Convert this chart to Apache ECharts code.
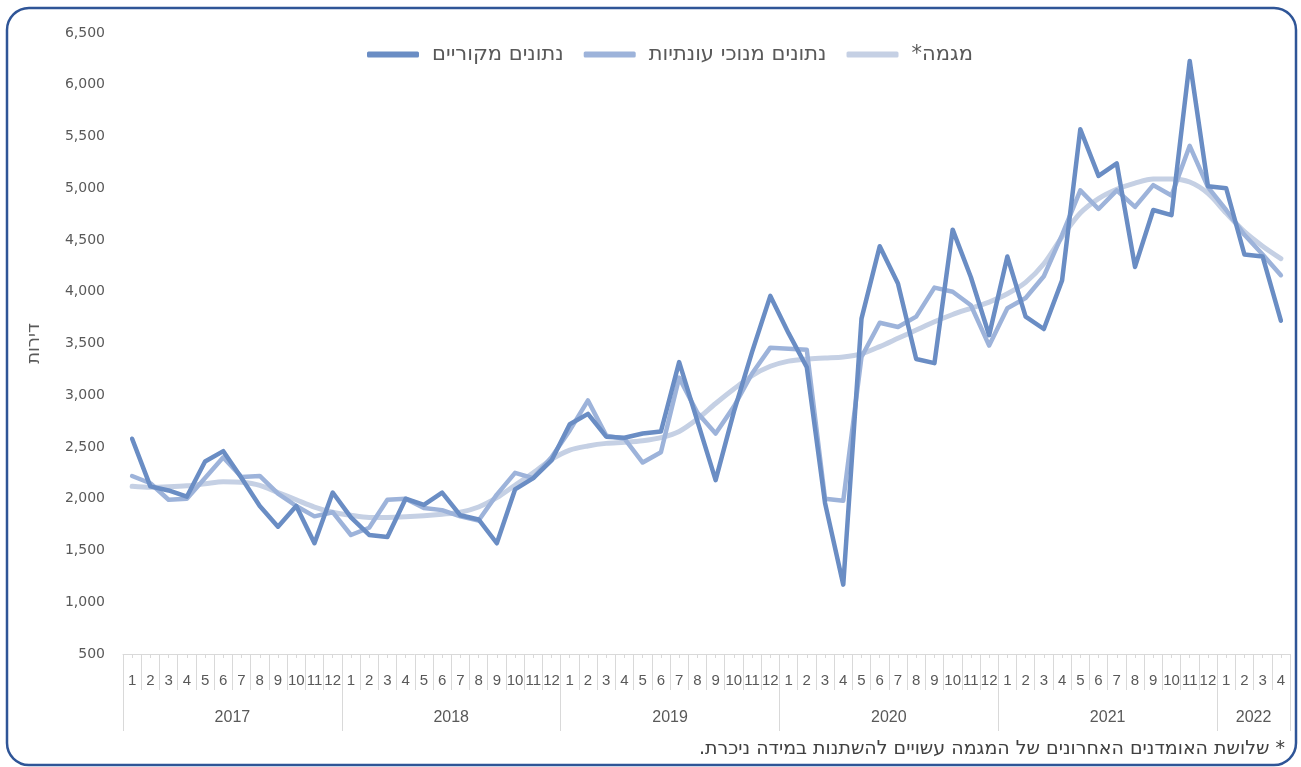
<!DOCTYPE html>
<html>
<head>
<meta charset="utf-8">
<script src="https://cdn.jsdelivr.net/npm/echarts@6/dist/echarts.min.js"></script>
<style>
html,body{margin:0;padding:0;background:#fff;}
#chart{width:1301px;height:767px;}
</style>
</head>
<body>
<div id="chart"></div>
<script>
// ---- data ----
const yearLabels = ['2017', '2018', '2019', '2020', '2021', '2022'];
const monthsPerYear = [12, 12, 12, 12, 12, 4];
const seriesNames = ['נתונים מקוריים', 'נתונים מנוכי עונתיות', 'מגמה*\u200F'];
const yAxisName = 'דירות';
const footnote = '\u200F* שלושת האומדנים האחרונים של המגמה עשויים להשתנות במידה ניכרת.\u200F';

const original = [
  2580, 2120, 2080, 2020, 2360, 2460, 2200, 1930, 1730, 1930, 1570, 2060,
  1820, 1650, 1630, 2000, 1940, 2060, 1840, 1800, 1570, 2090, 2200, 2370,
  2720, 2820, 2600, 2590, 2630, 2650, 3320, 2750, 2180, 2840, 3420, 3960,
  3600, 3270, 1960, 1170, 3740, 4440, 4080, 3350, 3310, 4600, 4140, 3580,
  4340, 3760, 3640, 4110, 5570, 5120, 5240, 4240, 4790, 4740, 6230, 5020,
  5000, 4360, 4340, 3720
];
const seasonallyAdjusted = [
  2220, 2150, 1990, 2000, 2200, 2400, 2210, 2220, 2050, 1930, 1830, 1870,
  1650, 1720, 1990, 2000, 1910, 1890, 1830, 1790, 2040, 2250, 2200, 2400,
  2660, 2950, 2610, 2580, 2350, 2450, 3170, 2830, 2630, 2890, 3210, 3460,
  3450, 3440, 2000, 1980, 3370, 3700, 3660, 3760, 4040, 4000, 3870, 3480,
  3840, 3940, 4150, 4550, 4980, 4800, 4980, 4820, 5030, 4930, 5410, 5010,
  4790, 4550, 4360, 4160
];
const trend = [
  2120, 2110, 2115, 2125, 2145, 2165, 2160, 2130, 2060, 1990, 1920, 1870,
  1840, 1820, 1820, 1825, 1835, 1850, 1870, 1920, 2010, 2130, 2250, 2380,
  2470, 2510, 2535, 2545, 2560, 2590, 2650, 2770, 2920, 3060, 3190, 3280,
  3330, 3350, 3360, 3370, 3400, 3470, 3550, 3630, 3710, 3780, 3840, 3900,
  3980, 4090, 4270, 4530, 4760, 4900, 4990, 5050, 5090, 5090, 5060, 4950,
  4760, 4580, 4440, 4320
];

// ---- derived categories ----
const categories = [];
const monthLabels = [];
yearLabels.forEach((y, yi) => {
  for (let m = 1; m <= monthsPerYear[yi]; m++) {
    categories.push(y + '-' + m);
    monthLabels.push(String(m));
  }
});
// half-month grid for the year row (points at band boundaries & centres)
const halfCats = [];
for (let k = 0; k <= categories.length * 2; k++) halfCats.push('h' + k);
const yearBoundaryIdx = [0];
const yearCenterIdx = {};
let acc = 0;
yearLabels.forEach((y, yi) => {
  yearCenterIdx[(acc * 2 + monthsPerYear[yi])] = y;
  acc += monthsPerYear[yi];
  yearBoundaryIdx.push(acc * 2);
});

const FONT = '"Liberation Sans", Arial, sans-serif';
const HEB = '"DejaVu Sans", sans-serif';
const GRAY = '#595959';
const LINE_GRAY = '#d9d9d9';
const colors = ['#6a8dc4', '#9db3da', '#c5d0e4'];

const chart = echarts.init(document.getElementById('chart'), null, {renderer: 'canvas'});
chart.setOption({
  animation: false,
  backgroundColor: '#fff',
  color: colors,
  textStyle: {fontFamily: FONT},
  grid: {left: 123, right: 11, top: 33, bottom: 113, containLabel: false},
  legend: {
    top: 39,
    left: 362,
    itemWidth: 52,
    itemHeight: 6,
    itemGap: 20,
    icon: 'roundRect',
    textStyle: {fontFamily: HEB, fontSize: 21, color: GRAY, padding: [0, 0, 0, 8]},
    data: seriesNames
  },
  xAxis: [
    {
      type: 'category',
      data: categories,
      boundaryGap: true,
      axisLine: {lineStyle: {color: LINE_GRAY, width: 1}},
      axisTick: {show: true, length: 36, lineStyle: {color: LINE_GRAY}},
      axisLabel: {
        interval: 0, margin: 19, fontSize: 15, color: GRAY, fontFamily: FONT,
        formatter: (v, i) => monthLabels[i]
      },
      splitLine: {show: false}
    },
    {
      type: 'category',
      data: categories,
      boundaryGap: true,
      position: 'bottom',
      axisLine: {show: false},
      axisTick: {show: true, alignWithLabel: true, interval: 0, length: 4, lineStyle: {color: LINE_GRAY}},
      axisLabel: {show: false},
      splitLine: {show: false}
    },
    {
      type: 'category',
      data: halfCats,
      boundaryGap: false,
      position: 'bottom',
      axisLine: {show: false},
      axisTick: {
        show: true, length: 77, lineStyle: {color: LINE_GRAY},
        interval: (idx) => yearBoundaryIdx.indexOf(idx) >= 0
      },
      axisLabel: {
        margin: 56, fontSize: 16, color: GRAY, fontFamily: FONT,
        interval: (idx) => yearCenterIdx[idx] !== undefined,
        formatter: (v, idx) => yearCenterIdx[idx] || ''
      },
      splitLine: {show: false}
    }
  ],
  yAxis: {
    type: 'value',
    min: 500,
    max: 6500,
    interval: 500,
    name: yAxisName,
    nameLocation: 'middle',
    nameRotate: 90,
    nameGap: 80,
    nameTextStyle: {fontSize: 18, color: GRAY, fontFamily: HEB},
    axisLine: {show: false},
    axisTick: {show: false},
    splitLine: {show: false},
    axisLabel: {
      margin: 18, fontSize: 14, color: GRAY, fontFamily: '"DejaVu Sans", sans-serif',
      formatter: (v) => v.toLocaleString('en-US')
    }
  },
  series: [
    {
      name: seriesNames[0], type: 'line', data: original, xAxisIndex: 0,
      symbol: 'none', z: 4,
      lineStyle: {width: 4.5, color: colors[0], cap: 'round', join: 'round'}
    },
    {
      name: seriesNames[1], type: 'line', data: seasonallyAdjusted, xAxisIndex: 0,
      symbol: 'none', z: 3,
      lineStyle: {width: 4.5, color: colors[1], cap: 'round', join: 'round'}
    },
    {
      name: seriesNames[2], type: 'line', data: trend, xAxisIndex: 0,
      symbol: 'none', smooth: 0.3, z: 2,
      lineStyle: {width: 5, color: colors[2], cap: 'round', join: 'round'}
    }
  ],
  graphic: [
    {
      type: 'rect', silent: true, z: 100,
      shape: {x: 7, y: 8, width: 1289, height: 757, r: 22},
      style: {fill: 'none', stroke: '#2f5597', lineWidth: 2.5}
    },
    {
      type: 'text', right: 16, top: 740, z: 100,
      style: {text: footnote, fontSize: 19, fill: '#404040', fontFamily: HEB}
    }
  ]
});
</script>
</body>
</html>
